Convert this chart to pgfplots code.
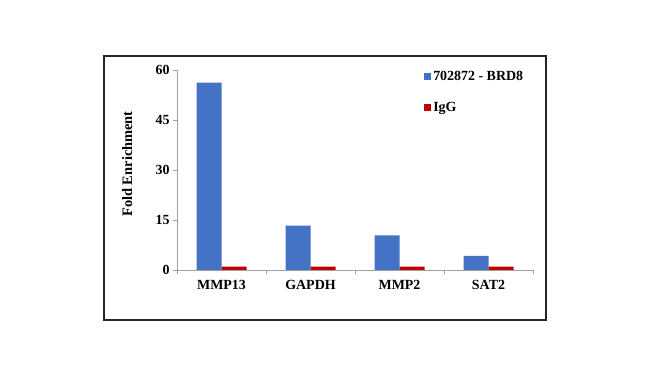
\documentclass[border=0pt]{standalone}
\usepackage{fontspec}
\setmainfont{Liberation Serif}
\usepackage{pgfplots}
\pgfplotsset{compat=1.18}
\definecolor{barblue}{HTML}{4472C4}
\definecolor{barred}{HTML}{C00000}
\definecolor{axgray}{HTML}{A0A0A0}
\begin{document}
\begin{tikzpicture}
\fill[white] (0,0) rectangle (650bp,377bp);
\draw[line width=1.3bp, black!85] (104bp,57bp) rectangle (546bp,321bp);
\begin{axis}[
  at={(177bp,107bp)}, anchor=south west,
  scale only axis, width=356bp, height=200bp,
  ybar=0pt, bar width=25bp,
  xmin=-0.5, xmax=3.5, ymin=0, ymax=60,
  ytick={0,15,30,45,60},
  xtick={0,1,2,3},
  xticklabels={MMP13,GAPDH,MMP2,SAT2},
  minor xtick={-0.5,0.5,1.5,2.5,3.5},
  major x tick style={draw=none},
  minor tick length=4bp, major tick length=4bp,
  tick align=outside, tick pos=left,
  axis lines*=left,
  axis line style={axgray, line width=0.8bp},
  every tick/.style={axgray, line width=0.8bp},
  /pgf/number format/assume math mode=true,
  tick label style={font=\fontsize{14}{16}\selectfont\bfseries},
  xticklabel style={yshift=-3bp},
  ylabel={Fold Enrichment},
  ylabel style={at={(axis description cs:-0.14,0.53)}, anchor=center, font=\fontsize{14.5}{16}\selectfont\bfseries},
  legend style={draw=none, fill=none, at={(rel axis cs:0.694,1.005)}, anchor=north west,
    font=\fontsize{14}{16}\selectfont\bfseries, row sep=16bp, inner sep=0pt},
  legend cell align=left,
  legend image code/.code={\fill[#1] (0bp,-3.5bp) rectangle (7bp,3.5bp);},
]
\addplot[fill=barblue, draw=none] coordinates {(0,56.2) (1,13.3) (2,10.4) (3,4.2)};
\addplot[fill=barred, draw=none] coordinates {(0,1.0) (1,1.0) (2,1.0) (3,1.0)};
\legend{702872 - BRD8, IgG}
\end{axis}
\end{tikzpicture}
\end{document}
